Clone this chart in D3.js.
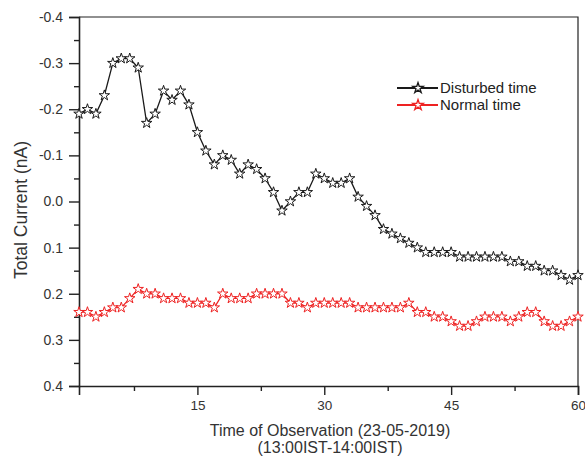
<!DOCTYPE html>
<html>
<head>
<meta charset="utf-8">
<script src="https://cdn.jsdelivr.net/npm/d3@7"></script>
<style>
  body { margin: 0; background: #fff; }
  svg { display: block; font-family: "Liberation Sans", Arial, sans-serif; }
</style>
</head>
<body>
<div id="chart"></div>
<script>
// Total current, disturbed vs normal day, one reading per minute
const minutes = d3.range(1, 61);

const disturbedValues = [
    -0.19, -0.20, -0.19, -0.23, -0.30, -0.31, -0.31, -0.29, -0.17, -0.19,
    -0.24, -0.22, -0.24, -0.21, -0.15, -0.11, -0.08, -0.10, -0.09, -0.06,
    -0.08, -0.07, -0.05, -0.02, 0.02, 0.00, -0.02, -0.02, -0.06, -0.05,
    -0.04, -0.04, -0.05, -0.01, 0.01, 0.03, 0.06, 0.07, 0.08, 0.09,
    0.10, 0.11, 0.11, 0.11, 0.11, 0.12, 0.12, 0.12, 0.12, 0.12,
    0.12, 0.13, 0.13, 0.14, 0.14, 0.15, 0.15, 0.16, 0.17, 0.16
];

const normalValues = [
    0.24, 0.24, 0.25, 0.24, 0.23, 0.23, 0.21, 0.19, 0.20, 0.20,
    0.21, 0.21, 0.21, 0.22, 0.22, 0.22, 0.23, 0.20, 0.21, 0.21,
    0.21, 0.20, 0.20, 0.20, 0.20, 0.22, 0.22, 0.23, 0.22, 0.22,
    0.22, 0.22, 0.22, 0.23, 0.23, 0.23, 0.23, 0.23, 0.23, 0.22,
    0.24, 0.24, 0.25, 0.25, 0.26, 0.27, 0.27, 0.26, 0.25, 0.25,
    0.25, 0.26, 0.25, 0.24, 0.24, 0.26, 0.27, 0.27, 0.26, 0.25
];

const seriesNames = ['Disturbed time', 'Normal time'];
const seriesColors = ['#1a1a1a', '#ee2222'];

const xMajorTicks = [15, 30, 45, 60];
const xMinorTicks = [7.5, 22.5, 37.5, 52.5];
const yMajorTicks = [-0.4, -0.3, -0.2, -0.1, 0.0, 0.1, 0.2, 0.3, 0.4];
const yMinorTicks = [-0.35, -0.25, -0.15, -0.05, 0.05, 0.15, 0.25, 0.35];

const W = 585, H = 458;
const margin = { top: 17, right: 7, bottom: 72, left: 79 };
const width = W - margin.left - margin.right;
const height = H - margin.top - margin.bottom;

const svg = d3.select('#chart').append('svg')
    .attr('width', W)
    .attr('height', H);

const g = svg.append('g')
    .attr('transform', `translate(${margin.left},${margin.top})`);

const x = d3.scaleLinear().domain([1, 60]).range([0, width]);
// inverted axis: -0.4 on top
const y = d3.scaleLinear().domain([-0.4, 0.4]).range([0, height]);

// frame (top + right)
g.append('path')
    .attr('d', `M0,0H${width}V${height}`)
    .attr('fill', 'none')
    .attr('stroke', '#222')
    .attr('stroke-width', 1.2);

// x axis
g.append('g')
    .attr('class', 'x-axis')
    .attr('transform', `translate(0,${height})`)
    .call(d3.axisBottom(x).tickValues(xMajorTicks).tickSize(9).tickPadding(5).tickFormat(d3.format('d')));
g.append('g')
    .attr('transform', `translate(0,${height})`)
    .call(d3.axisBottom(x).tickValues(xMinorTicks).tickSize(5).tickFormat(''))
    .call(a => a.select('.domain').remove());

// y axis (plain hyphen for minus, like the original)
g.append('g')
    .attr('class', 'y-axis')
    .call(d3.axisLeft(y).tickValues(yMajorTicks).tickSize(10).tickPadding(6)
        .tickFormat(d => d.toFixed(1)));
g.append('g')
    .call(d3.axisLeft(y).tickValues(yMinorTicks).tickSize(5).tickFormat(''))
    .call(a => a.select('.domain').remove());

g.selectAll('.domain').attr('stroke', '#222').attr('stroke-width', 1.6);
g.selectAll('.tick line').attr('stroke', '#222').attr('stroke-width', 1.4);
g.selectAll('.x-axis .tick text')
    .style('font-size', '13.5px')
    .style('fill', '#333');
g.selectAll('.y-axis .tick text')
    .style('font-size', '14px')
    .style('fill', '#333');

// axis titles
svg.append('text')
    .attr('x', 330)
    .attr('y', 436)
    .attr('text-anchor', 'middle')
    .style('font-size', '16px')
    .style('fill', '#333')
    .text('Time of Observation (23-05-2019)');

svg.append('text')
    .attr('x', 330)
    .attr('y', 453)
    .attr('text-anchor', 'middle')
    .style('font-size', '16px')
    .style('fill', '#333')
    .text('(13:00IST-14:00IST)');

svg.append('text')
    .attr('transform', 'translate(27,210) rotate(-90)')
    .attr('text-anchor', 'middle')
    .style('font-size', '17.5px')
    .style('fill', '#333')
    .text('Total Current (nA)');

// series
const allSeries = [disturbedValues, normalValues];
const line = d3.line()
    .x((d, i) => x(minutes[i]))
    .y(d => y(d));
const star = d3.symbol().type(d3.symbolStar).size(34);

allSeries.forEach((values, s) => {
    g.append('path')
        .datum(values)
        .attr('d', line)
        .attr('fill', 'none')
        .attr('stroke', seriesColors[s])
        .attr('stroke-width', 1.3);

    g.selectAll(`.star-${s}`)
        .data(values)
        .enter()
        .append('path')
        .attr('class', `star-${s}`)
        .attr('transform', (d, i) => `translate(${x(minutes[i])},${y(d)})`)
        .attr('d', star)
        .attr('fill', '#fff')
        .attr('stroke', seriesColors[s])
        .attr('stroke-width', 1);
});

// legend
const legend = svg.append('g').attr('transform', 'translate(397,88)');
seriesNames.forEach((name, s) => {
    const row = legend.append('g').attr('transform', `translate(0,${s * 17})`);
    row.append('line')
        .attr('x1', 0).attr('x2', 41)
        .attr('stroke', seriesColors[s])
        .attr('stroke-width', 2);
    row.append('path')
        .attr('transform', 'translate(21,0)')
        .attr('d', star)
        .attr('fill', '#fff')
        .attr('stroke', seriesColors[s])
        .attr('stroke-width', 1.3);
    row.append('text')
        .attr('x', 43)
        .attr('dy', '0.35em')
        .style('font-size', '15px')
        .style('fill', '#222')
        .text(name);
});
</script>
</body>
</html>
